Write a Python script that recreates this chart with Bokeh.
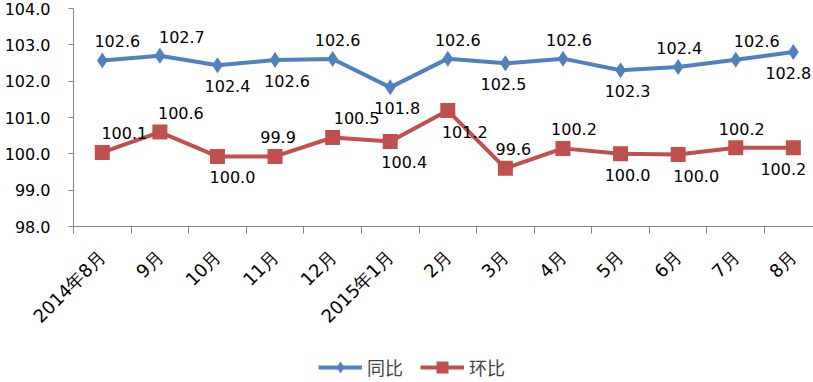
import math
from bokeh.plotting import figure
from bokeh.layouts import column
from bokeh.models import (FixedTicker, Range1d, LabelSet, ColumnDataSource,
                          Legend, LegendItem, PrintfTickFormatter)
from bokeh.core.properties import value
from bokeh.embed import file_html
from bokeh.resources import INLINE

# ---- data ----
months = ["2014年8月", "9月", "10月", "11月", "12月", "2015年1月", "2月",
          "3月", "4月", "5月", "6月", "7月", "8月"]
tongbi = [102.57, 102.70, 102.44, 102.58, 102.61, 101.83, 102.62,
          102.49, 102.62, 102.30, 102.39, 102.59, 102.80]
tongbi_labels = ["102.6", "102.7", "102.4", "102.6", "102.6", "101.8", "102.6",
                 "102.5", "102.6", "102.3", "102.4", "102.6", "102.8"]
huanbi = [100.04, 100.60, 99.93, 99.93, 100.45, 100.34, 101.19,
          99.60, 100.15, 100.00, 99.98, 100.17, 100.17]
huanbi_labels = ["100.1", "100.6", "100.0", "99.9", "100.5", "100.4", "101.2",
                 "99.6", "100.2", "100.0", "100.0", "100.2", "100.2"]
y_ticks = [98.0, 99.0, 100.0, 101.0, 102.0, 103.0, 104.0]
series_names = ["同比", "环比"]

# label placement (style): side of the point and horizontal nudge in px
tongbi_side = ["above", "above", "below", "below", "above", "below", "above",
               "below", "above", "below", "above", "above", "below"]
tongbi_dx = [15, 22, 10, 12, 5, 7, 10, -2, 6, 7, 1, 21, -5]
huanbi_side = ["above", "above", "below", "above", "above", "below", "below",
               "above", "above", "below", "below", "above", "below"]
huanbi_dx = [22, 21, 15, 3, 24, 14, 17, 8, 11, 7, 18, 6, -10]

BLUE = "#4F81BD"
RED = "#C0504D"
AXIS = "#868686"
FONT = "DejaVu Sans"

n = len(months)
xc = [i + 0.5 for i in range(n)]

p = figure(width=813, height=340, x_range=Range1d(0, 12.85),
           y_range=Range1d(98, 104), output_backend="svg",
           toolbar_location=None, min_border_left=73, min_border_right=0,
           min_border_top=8, min_border_bottom=114)
p.outline_line_color = None
p.grid.visible = False

# x axis
p.xaxis.ticker = FixedTicker(ticks=xc, minor_ticks=list(range(n + 1)))
p.xaxis.major_label_overrides = {x: m for x, m in zip(xc, months)}
p.xaxis.major_label_orientation = math.pi / 4
p.xaxis.major_tick_out = 0
p.xaxis.major_tick_in = 0
p.xaxis.minor_tick_out = 7
p.xaxis.minor_tick_in = 0
p.xaxis.minor_tick_line_color = AXIS
p.xaxis.axis_line_color = AXIS
p.xaxis.major_label_standoff = 20
p.xaxis.major_label_text_font = FONT
p.xaxis.major_label_text_font_size = "18px"
p.xaxis.major_label_text_color = "black"

# y axis
p.yaxis.ticker = FixedTicker(ticks=y_ticks)
p.yaxis.formatter = PrintfTickFormatter(format="%.1f")
p.yaxis.major_tick_out = 5
p.yaxis.major_tick_in = 0
p.yaxis.minor_tick_out = 0
p.yaxis.minor_tick_in = 0
p.yaxis.axis_line_color = AXIS
p.yaxis.major_tick_line_color = AXIS
p.yaxis.major_label_standoff = 18
p.yaxis.major_label_text_font = FONT
p.yaxis.major_label_text_font_size = "16px"
p.yaxis.major_label_text_color = "black"

# series
p.line(xc, tongbi, line_color=BLUE, line_width=4)
p.scatter(xc, tongbi, marker="diamond", size=16, fill_color=BLUE,
          line_color=None)
p.line(xc, huanbi, line_color=RED, line_width=4)
p.scatter(xc, huanbi, marker="square", size=15, fill_color=RED,
          line_color=None)

def labels(vals, texts, sides, dxs):
    src = ColumnDataSource(dict(x=xc, y=vals, t=texts, dx=dxs,
                                dy=[19 if s == "above" else -21 for s in sides]))
    return LabelSet(x="x", y="y", text="t", source=src, x_offset="dx",
                    y_offset="dy", text_align="center",
                    text_baseline="middle", text_font_size="16px",
                    text_font=value(FONT), text_color="black")

p.add_layout(labels(tongbi, tongbi_labels, tongbi_side, tongbi_dx))
p.add_layout(labels(huanbi, huanbi_labels, huanbi_side, huanbi_dx))

# legend strip below the chart (same series, outside its visible range)
lf = figure(width=813, height=42, x_range=Range1d(-100, -99),
            y_range=Range1d(0, 1), output_backend="svg",
            toolbar_location=None, min_border_left=0, min_border_right=0,
            min_border_top=0, min_border_bottom=0)
lf.axis.visible = False
lf.grid.visible = False
lf.outline_line_color = None
a1 = lf.line(xc, tongbi, line_color=BLUE, line_width=4)
b1 = lf.scatter(xc, tongbi, marker="diamond", size=16, fill_color=BLUE,
                line_color=None)
a2 = lf.line(xc, huanbi, line_color=RED, line_width=4)
b2 = lf.scatter(xc, huanbi, marker="square", size=15, fill_color=RED,
                line_color=None)
legend = Legend(items=[LegendItem(label=series_names[0], renderers=[a1, b1]),
                       LegendItem(label=series_names[1], renderers=[a2, b2])],
                orientation="horizontal", location=(245, 0),
                border_line_color=None, background_fill_alpha=0,
                padding=0, margin=0, glyph_width=44, glyph_height=30,
                spacing=17, label_standoff=5,
                label_text_font="Noto Sans CJK SC",
                label_text_font_size="18px")
lf.add_layout(legend)

layout = column(p, lf, spacing=0)
open("out.html", "w").write(file_html(layout, INLINE))
